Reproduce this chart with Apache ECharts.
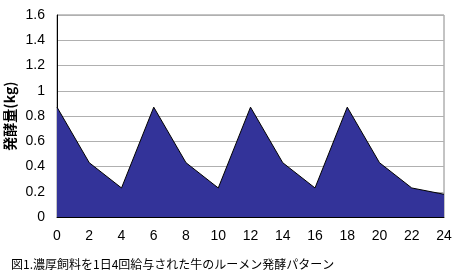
<!DOCTYPE html>
<html><head><meta charset="utf-8">
<script src="https://cdn.jsdelivr.net/npm/echarts@6/dist/echarts.min.js"></script>
<style>html,body{margin:0;padding:0;background:#fff}#c{width:454px;height:271px}</style>
</head><body><div id="c"></div>
<script>
const hours = [0,2,4,6,8,10,12,14,16,18,20,22,24];
const fermentation = [0.87,0.43,0.23,0.87,0.43,0.23,0.87,0.43,0.23,0.87,0.43,0.23,0.18];
const yTicks = [0,0.2,0.4,0.6,0.8,1,1.2,1.4,1.6];
const yTitle = '発酵量(kg)';
const caption = '図1.濃厚飼料を1日4回給与された牛のルーメン発酵パターン';

const chart = echarts.init(document.getElementById('c'));
chart.setOption({
  animation:false,
  grid:{left:57,right:10,top:15,bottom:54,show:true,borderColor:'#888',borderWidth:1,containLabel:false,outerBoundsMode:'none'},
  title:{text:caption,left:6,top:253,textStyle:{fontFamily:'Noto Sans CJK JP',fontSize:12,fontWeight:'normal',color:'#000'}},
  xAxis:{type:'value',min:0,max:24,interval:2,
    axisLine:{show:true,lineStyle:{color:'#000'}},axisTick:{show:false},splitLine:{show:false},
    axisLabel:{color:'#000',fontFamily:'Liberation Sans',fontSize:14,margin:12}},
  yAxis:{type:'value',min:0,max:1.6,interval:0.2,
    name:yTitle,nameLocation:'middle',nameGap:40,nameRotate:90,nameMoveOverlap:false,
    nameTextStyle:{fontFamily:'Noto Sans CJK JP',fontSize:14,fontWeight:'bold',color:'#000'},
    axisLine:{show:true,lineStyle:{color:'#000'}},axisTick:{show:false},
    splitLine:{lineStyle:{color:'#b0b0b0'}},
    axisLabel:{color:'#000',fontFamily:'Liberation Sans',fontSize:14,margin:12,
      formatter:v=>{const t=yTicks.find(x=>Math.abs(x-v)<1e-9);return t===undefined?'':String(t);}}},
  series:[{type:'line',data:hours.map((h,i)=>[h,fermentation[i]]),symbol:'none',
    lineStyle:{color:'#000',width:1},areaStyle:{color:'#333399',opacity:1}}]
});
</script></body></html>
